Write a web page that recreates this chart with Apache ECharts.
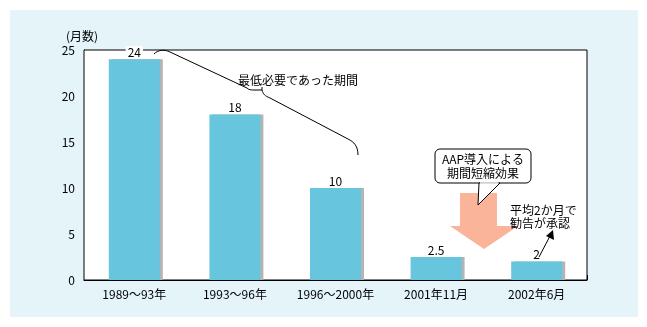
<!DOCTYPE html>
<html><head><meta charset="utf-8">
<script src="https://cdn.jsdelivr.net/npm/echarts@6/dist/echarts.min.js"></script>
<style>html,body{margin:0;padding:0;background:#fff;}#c{width:647px;height:327px;}</style>
</head><body><div id="c"></div>
<script>
const categories = ['1989～93年','1993～96年','1996～2000年','2001年11月','2002年6月'];
const months = [24, 18, 10, 2.5, 2];
const yTicks = [0, 5, 10, 15, 20, 25];
const FONT = '"Noto Sans CJK JP", sans-serif';

const chart = echarts.init(document.getElementById('c'), null, {renderer:'canvas'});
const txt = (x, y, s, align) => ({type:'text', x, y, style:{text:s, fill:'#000', font:'12px ' + FONT, align: align||'left', verticalAlign:'middle'}, z:20});
const ln = (x1,y1,x2,y2,z) => ({type:'line', shape:{x1,y1,x2,y2}, style:{stroke:'#000', lineWidth:1}, z:z||20});
const bz = (x1,y1,cx1,cy1,cx2,cy2,x2,y2) => ({type:'bezierCurve', shape:{x1,y1,cpx1:cx1,cpy1:cy1,cpx2:cx2,cpy2:cy2,x2,y2}, style:{fill:null, stroke:'#000', lineWidth:1}, z:20});
chart.setOption({
  animation:false,
  backgroundColor:'#fff',
  grid:{left:84, right:60, top:50, bottom:47, show:true, backgroundColor:'#fff', borderColor:'#000', borderWidth:1, z:2},
  xAxis:{type:'category', data:categories,
    axisLine:{lineStyle:{color:'#000', width:1}},
    axisTick:{show:true, inside:true, length:5, lineStyle:{color:'#000'}},
    axisLabel:{color:'#000', fontSize:12, fontFamily:FONT, margin:8}},
  yAxis:{type:'value', min:yTicks[0], max:yTicks[yTicks.length-1], interval:5,
    name:'(月数)', nameLocation:'end', nameGap:8, nameTextStyle:{color:'#000', fontSize:12, fontFamily:FONT, align:'right', padding:[0,-14,0,0]},
    axisLine:{show:true, lineStyle:{color:'#000'}}, axisTick:{show:false},
    axisLabel:{color:'#000', fontSize:12, fontFamily:FONT, margin:9},
    splitLine:{lineStyle:{color:'#888', width:1}}},
  series:[{type:'bar', data:months, barWidth:51, z:3,
    itemStyle:{color:'#67C5DD', shadowColor:'#B4B4B4', shadowOffsetX:3, shadowBlur:0},
    label:{show:true, position:'top', distance:1, color:'#000', fontSize:12, fontFamily:FONT, backgroundColor:'#fff', padding:[0,2,0,2]}}],
  graphic:[
    {type:'rect', shape:{x:10, y:10, width:628, height:307}, style:{fill:'#E4F4F9'}, z:-10, silent:true},
    bz(154,54,158,50,164,49,170,52),
    ln(170,52,247,88),
    bz(247,88,249,90,251,90,255,90),
    ln(255,90,262,90), ln(262,90,262,87),
    bz(262,90,263,94,265,96,270,98),
    ln(270,98,348,139),
    bz(348,139,354,142,358,146,358,155),
    txt(238, 80, '最低必要であった期間'),
    {type:'polygon', shape:{points:[[460,193],[497,193],[497,226],[518,226],[484,249],[450,226],[460,226]]}, style:{fill:'#F9B49A'}, z:15},
    {type:'rect', shape:{x:435, y:149, width:96, height:34, r:5}, style:{fill:'#fff', stroke:'#000', lineWidth:1}, z:16},
    {type:'polygon', shape:{points:[[479,183],[478,205],[500,183]]}, style:{fill:'#fff', stroke:'#000', lineWidth:1}, z:17},
    {type:'line', shape:{x1:480, y1:183, x2:498.5, y2:183}, style:{stroke:'#fff', lineWidth:1.5}, z:18},
    txt(483, 159, 'AAP導入による', 'center'),
    txt(483, 173, '期間短縮効果', 'center'),
    txt(510, 210, '平均2か月で'),
    txt(510, 223, '勧告が承認'),
    ln(539,257,550,236),
    {type:'polygon', shape:{points:[[553,230],[554,240],[546,236]]}, style:{fill:'#000'}, z:20}
  ]
});
</script></body></html>
